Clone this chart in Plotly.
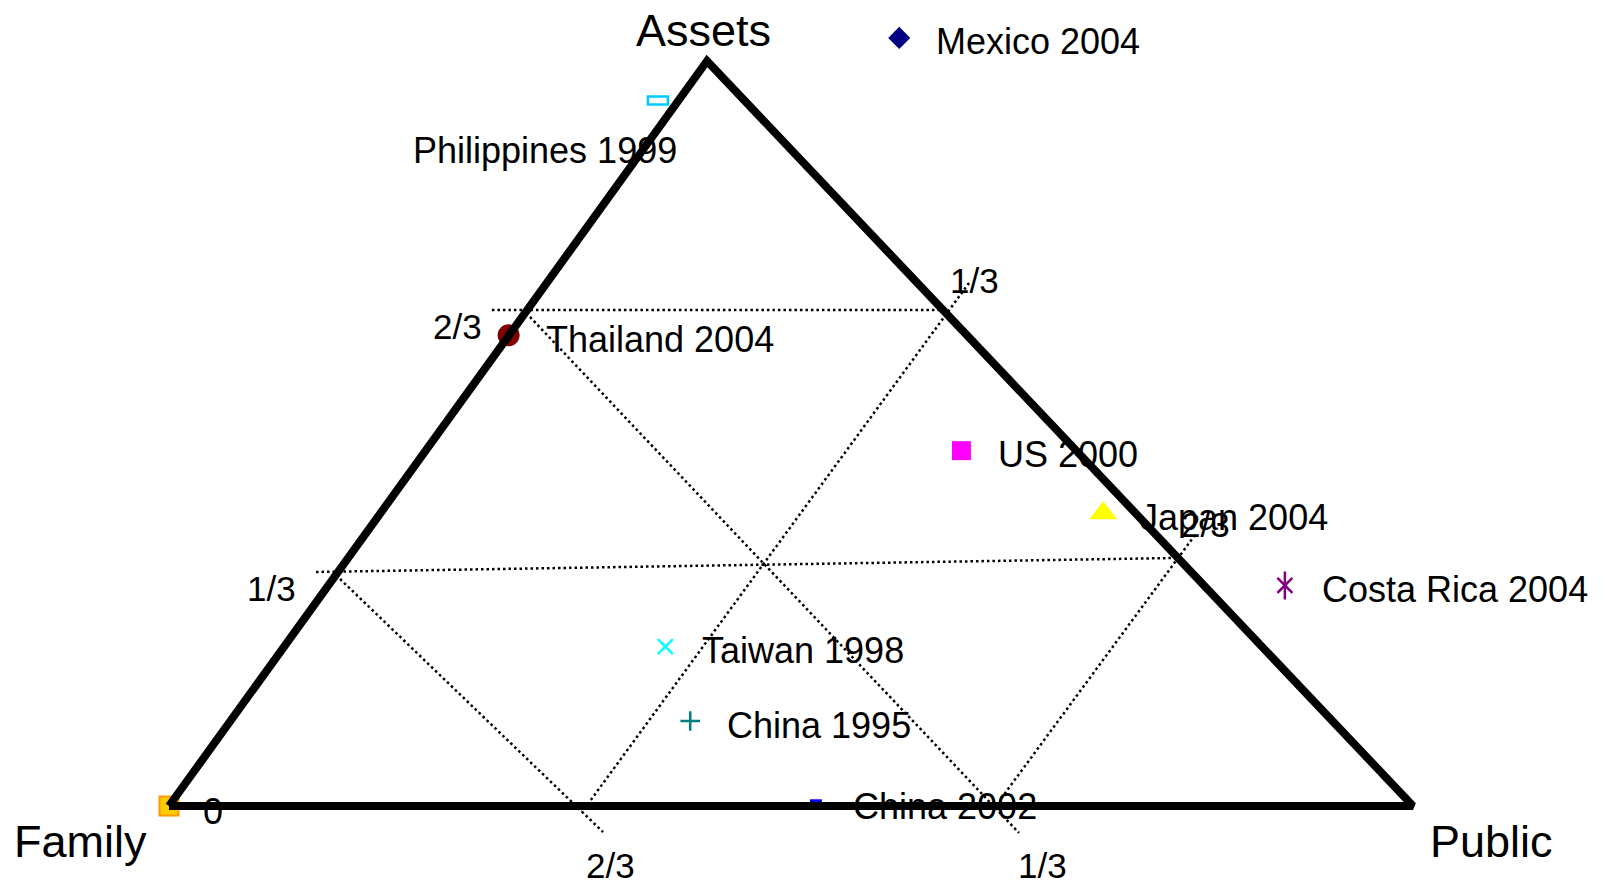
import plotly.graph_objects as go

# ---- data (ternary-style plane: Family vertex = (0,0), Public = (1,0), base height units) ----
countries = ["Mexico 2004", "Philippines 1999", "Thailand 2004", "US 2000", "Japan 2004",
             "Costa Rica 2004", "Taiwan 1998", "China 1995", "China 2002", "0"]
xs = [0.587, 0.393, 0.273, 0.637, 0.751, 0.897, 0.399, 0.419, 0.520, 0.000]
ys = [1.031, 0.947, 0.632, 0.477, 0.393, 0.296, 0.214, 0.114, 0.005, 0.000]

tri_x = [0.0, 1.0, 0.4325, 0.0]
tri_y = [0.0, 0.0, 1.0, 0.0]

# dotted guide lines: (x0, y0, x1, y1)
grid_h23 = [0.2596, 0.6658, 0.6254, 0.6658]
grid_h13 = [0.1182, 0.3141, 0.8087, 0.3329]
grid_a = [0.2902, 0.6564, 0.6833, -0.0362]
grid_b = [0.6431, 0.7020, 0.3320, -0.0081]
grid_c = [0.1375, 0.3047, 0.3489, -0.0349]
grid_d = [0.8248, 0.3638, 0.6680, 0.0081]
grids = [grid_h23, grid_h13, grid_a, grid_b, grid_c, grid_d]

tick_text = ["2/3", "1/3", "1/3", "2/3", "2/3", "1/3"]
tick_x = [0.2323, 0.6479, 0.0820, 0.8328, 0.3553, 0.7018]
tick_y = [0.6443, 0.7060, 0.2913, 0.3772, -0.0805, -0.0805]

corner_text = ["Family", "Public", "Assets"]
corner_x = [-0.0711, 1.0635, 0.4293]
corner_y = [-0.0483, -0.0483, 1.0410]

FONT = "Liberation Sans, Arial, sans-serif"

fig = go.Figure()

for g in grids:
    fig.add_trace(go.Scatter(x=[g[0], g[2]], y=[g[1], g[3]], mode="lines",
                             line=dict(color="black", width=2.5, dash="2.5px,3px"),
                             hoverinfo="skip", showlegend=False))

# markers (index into arrays)
def pt(i, **marker):
    fig.add_trace(go.Scatter(x=[xs[i]], y=[ys[i]], mode="markers", marker=marker,
                             showlegend=False, name=countries[i]))

pt(0, symbol="diamond", size=17, color="#000080")
pt(2, symbol="circle", size=22, color="#800000")
pt(3, symbol="square", size=19, color="#FF00FF")
pt(4, symbol="triangle-up", size=24, color="#FFFF00")
pt(5, symbol="x-thin-open", size=15, color="#800080", line=dict(color="#800080", width=2.5))
pt(5, symbol="line-ns-open", size=20, color="#800080", line=dict(color="#800080", width=2.5))
pt(6, symbol="x-thin-open", size=15, color="#00FFFF", line=dict(color="#00FFFF", width=2.5))
pt(7, symbol="cross-thin-open", size=14, color="#008080", line=dict(color="#008080", width=2.5))
pt(9, symbol="square", size=19, color="#FFCC00", line=dict(color="#FF9900", width=2))

# rectangular "dash" markers as pixel-sized shapes anchored at the data point
fig.add_shape(type="rect", xref="x", yref="y", xsizemode="pixel", ysizemode="pixel",
              xanchor=xs[1], yanchor=ys[1], x0=-10, x1=10, y0=-4, y1=4,
              line=dict(color="#00CCFF", width=2.5), fillcolor="white", layer="below")
fig.add_shape(type="rect", xref="x", yref="y", xsizemode="pixel", ysizemode="pixel",
              xanchor=xs[8], yanchor=ys[8], x0=-6, x1=6, y0=-3, y1=3,
              line=dict(color="#0000FF", width=0), fillcolor="#0000FF", layer="below")

# triangle frame
fig.add_trace(go.Scatter(x=tri_x, y=tri_y, mode="lines",
                         line=dict(color="black", width=8), hoverinfo="skip", showlegend=False))

# point labels
for i, name in enumerate(countries):
    if i == 9:
        fig.add_annotation(x=xs[i], y=ys[i], text=name, showarrow=False, xanchor="left",
                           yanchor="middle", xshift=32, yshift=-5,
                           font=dict(family=FONT, size=36, color="black"))
    elif i == 1:
        fig.add_annotation(x=xs[i], y=ys[i], text=name, showarrow=False, xanchor="center",
                           yanchor="middle", xshift=-113, yshift=-50,
                           font=dict(family=FONT, size=36, color="black"))
    else:
        fig.add_annotation(x=xs[i], y=ys[i], text=name, showarrow=False, xanchor="left",
                           yanchor="middle", xshift=35, yshift=-4,
                           font=dict(family=FONT, size=36, color="black"))

for t, x, y in zip(tick_text, tick_x, tick_y):
    fig.add_annotation(x=x, y=y, text=t, showarrow=False, xanchor="center", yanchor="middle",
                       font=dict(family=FONT, size=35, color="black"))

for t, x, y in zip(corner_text, corner_x, corner_y):
    fig.add_annotation(x=x, y=y, text=t, showarrow=False, xanchor="center", yanchor="middle",
                       font=dict(family=FONT, size=45, color="black"))

fig.update_layout(
    width=1606, height=882,
    margin=dict(l=0, r=0, t=0, b=0),
    paper_bgcolor="white", plot_bgcolor="white",
    xaxis=dict(range=[-0.129421, 1.161576], visible=False, fixedrange=True),
    yaxis=dict(range=[-0.112752, 1.071141], visible=False, fixedrange=True),
    showlegend=False,
)

fig.write_html("out.html")
